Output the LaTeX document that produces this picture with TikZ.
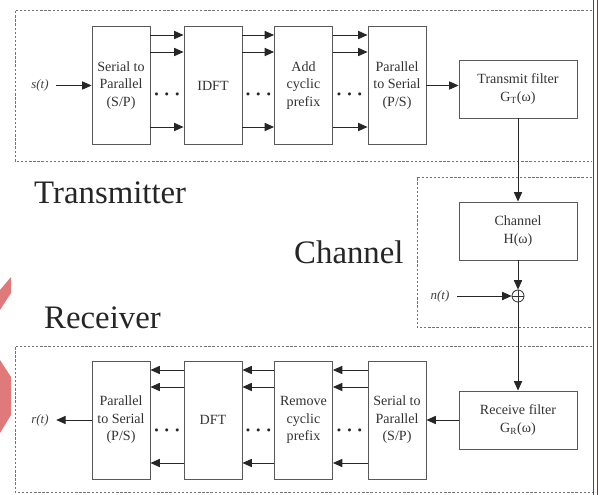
\documentclass[tikz,border=0pt]{standalone}
\usepackage{fontspec}
\setmainfont{Liberation Serif}
\usetikzlibrary{arrows.meta}

\definecolor{edgepink}{RGB}{224,122,122}

\tikzset{
  blk/.style={draw=black!65, line width=0.8pt, fill=white, align=center, inner sep=1pt,
    font=\rmfamily\fontsize{12}{15}\selectfont, text=black!80},
  tall/.style={blk, minimum width=17.4mm, minimum height=35.4mm},
  wide/.style={blk, minimum width=35.4mm, minimum height=17.4mm},
  arr/.style={-{Triangle[length=8pt,width=7pt]}, line width=0.7pt, draw=black!85},
  zone/.style={dash pattern=on 2pt off 1.5pt, draw=black!55, line width=0.7pt},
  bigtext/.style={font=\rmfamily\fontsize{28}{30}\selectfont, text=black!85, inner sep=0pt},
  sig/.style={font=\rmfamily\fontsize{11}{13}\selectfont\itshape, text=black!75},
  dots/.style={font=\fontsize{16}{16}\selectfont\boldmath, inner sep=0pt, text=black!85}
}

\begin{document}
\begin{tikzpicture}[x=0.3mm, y=-0.3mm]
        % page
        \fill[white] (0,0) rectangle (598,495);
        \useasboundingbox (0,0) rectangle (598,495);

        % slide edge marks
        \fill[edgepink] (0,290) -- (11,277) -- (11,293) -- (0,310) -- cycle;
        \fill[edgepink] (0,360) -- (11,377) -- (11,415) -- (0,433) -- cycle;
        \draw[red, line width=1pt] (593.8,0) -- (593.8,495);
        \draw[red, line width=1pt] (597.2,0) -- (597.2,495);

        % transmitter
        \draw[zone] (592,10) -- (15,10) -- (15,161) -- (592,161);
        \node[tall] (tsp) at (121,85.5) {Serial to\\Parallel\\(S/P)};
        \node[tall] (tidft) at (213,85.5) {IDFT};
        \node[tall] (tacp) at (303.5,85.5) {Add\\cyclic\\prefix};
        \node[tall] (tps) at (397,85.5) {Parallel\\to Serial\\(P/S)};
        \node[sig] (st) at (40,85.5) {s(t)};
        \draw[arr, shorten <=3pt] (st) -- (tsp);
        \foreach \y in {35,52,127} {
            \draw[arr] (tsp.east |- 0,\y) -- (tidft.west |- 0,\y);
            \draw[arr] (tidft.east |- 0,\y) -- (tacp.west |- 0,\y);
            \draw[arr] (tacp.east |- 0,\y) -- (tps.west |- 0,\y);
        }
        \node[dots] (tdotsa) at (167,95) {$\cdots$};
        \node[dots] (tdotsb) at (258.5,95) {$\cdots$};
        \node[dots] (tdotsc) at (349.5,95) {$\cdots$};
        \node[wide] (tf) at (518,89) {Transmit filter\\G\textsubscript{T}(ω)};
        \draw[arr] (tps.east) -- (tps.east -| tf.west);
        \node[bigtext, anchor=west] (txlabel) at (34,193) {Transmitter};

        % channel
        \draw[zone] (592,177) -- (417,177) -- (417,327) -- (592,327);
        \node[wide] (ch) at (518,231) {Channel\\H(ω)};
        \draw[arr] (tf) -- (ch);
        \node[circle, draw=black!80, line width=0.7pt, minimum size=3.6mm, inner sep=0pt,
            path picture={\draw[black!80, line width=0.6pt]
                (path picture bounding box.north) -- (path picture bounding box.south)
                (path picture bounding box.west) -- (path picture bounding box.east);}]
            (sum) at (518,296) {};
        \draw[arr] (ch) -- (sum);
        \node[sig] (nt) at (440,296) {n(t)};
        \draw[arr, shorten <=3pt] (nt) -- (sum);
        \node[bigtext, anchor=west] (chlabel) at (294,252) {Channel};

        % receiver
        \draw[zone] (592,346) -- (15,346) -- (15,492) -- (592,492);
        \node[wide] (rf) at (518,420) {Receive filter\\G\textsubscript{R}(ω)};
        \draw[arr] (sum) -- (rf);
        \node[tall] (rsp) at (397,420) {Serial to\\Parallel\\(S/P)};
        \node[tall] (rrcp) at (303.5,420) {Remove\\cyclic\\prefix};
        \node[tall] (rdft) at (213,420) {DFT};
        \node[tall] (rps) at (121,420) {Parallel\\to Serial\\(P/S)};
        \draw[arr] (rf) -- (rsp);
        \foreach \y in {370,387,463} {
            \draw[arr] (rsp.west |- 0,\y) -- (rrcp.east |- 0,\y);
            \draw[arr] (rrcp.west |- 0,\y) -- (rdft.east |- 0,\y);
            \draw[arr] (rdft.west |- 0,\y) -- (rps.east |- 0,\y);
        }
        \node[dots] (rdotsa) at (167,431) {$\cdots$};
        \node[dots] (rdotsb) at (258.5,431) {$\cdots$};
        \node[dots] (rdotsc) at (349.5,431) {$\cdots$};
        \node[sig] (rt) at (40,420) {r(t)};
        \draw[arr, shorten >=3pt] (rps) -- (rt);
        \node[bigtext, anchor=west] (rxlabel) at (44,318) {Receiver};
\end{tikzpicture}
\end{document}
